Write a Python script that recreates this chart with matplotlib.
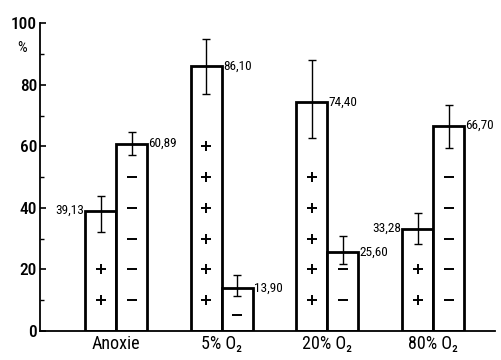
import matplotlib
matplotlib.use("Agg")
import matplotlib.pyplot as plt
import numpy as np

# ---- data ----
groups = ["Anoxie", "5% O₂", "20% O₂", "80% O₂"]
positive = [39.13, 86.10, 74.40, 33.28]   # "+" bars
negative = [60.89, 13.90, 25.60, 66.70]   # "−" bars
pos_err_lo = [7.0, 9.0, 11.6, 4.9]
pos_err_hi = [4.6, 8.9, 13.8, 4.9]
neg_err_lo = [3.8, 2.6, 4.0, 7.1]
neg_err_hi = [3.7, 4.2, 5.4, 6.7]
pos_symbols = [2, 6, 5, 2]
neg_symbols = [5, 1, 2, 5]
yticks = [0, 20, 40, 60, 80, 100]

plt.rcParams['font.family'] = ['Roboto Condensed', 'Liberation Sans', 'DejaVu Sans']

fig = plt.figure(figsize=(5.01, 3.6), dpi=100)
ax = fig.add_axes([0.0798, 0.0806, 0.908, 0.855])

x = np.arange(len(groups))
w = 0.293
lw = 2.0
ax.bar(x - w / 2, positive, width=w, facecolor='white', edgecolor='black', linewidth=lw, zorder=2)
ax.bar(x + w / 2, negative, width=w, facecolor='white', edgecolor='black', linewidth=lw, zorder=2)
ax.errorbar(x - w / 2, positive, yerr=[pos_err_lo, pos_err_hi], fmt='none', ecolor='black',
            elinewidth=1.0, capsize=3, capthick=1.0, zorder=3)
ax.errorbar(x + w / 2, negative, yerr=[neg_err_lo, neg_err_hi], fmt='none', ecolor='black',
            elinewidth=1.0, capsize=3, capthick=1.0, zorder=3)

for i in range(len(groups)):
    ys = [10 * (k + 1) for k in range(pos_symbols[i])]
    ax.plot([x[i] - w / 2] * len(ys), ys, linestyle='none', marker='+', markersize=7.5,
            markeredgewidth=1.4, color='black', zorder=4)
    if neg_symbols[i] == 1 and negative[i] < 20:
        ys = [negative[i] * 0.38]
    else:
        ys = [10 * (k + 1) for k in range(neg_symbols[i])]
    ax.plot([x[i] + w / 2] * len(ys), ys, linestyle='none', marker='_', markersize=7,
            markeredgewidth=1.4, color='black', zorder=4)

left_label = [True, False, False, True]
vfs = 9.5
for i in range(len(groups)):
    t = f"{positive[i]:.2f}".replace('.', ',')
    if left_label[i]:
        ax.text(x[i] - w - 0.012, positive[i], t, ha='right', va='center', fontsize=vfs)
    else:
        ax.text(x[i] + 0.012, positive[i], t, ha='left', va='center', fontsize=vfs)
    t = f"{negative[i]:.2f}".replace('.', ',')
    ax.text(x[i] + w + 0.012, negative[i], t, ha='left', va='center', fontsize=vfs)

ax.set_xlim(-0.72, 3.585)
ax.set_ylim(0, 100)
ax.set_yticks(yticks)
ax.set_yticks([10, 30, 50, 70, 90], minor=True)
ax.tick_params(axis='y', which='major', direction='in', length=4, width=1.2, labelsize=12.5, pad=2)
ax.tick_params(axis='y', which='minor', direction='in', length=3, width=1.0)
for lab in ax.get_yticklabels():
    lab.set_fontweight('medium')
ax.set_xticks(x)
ax.set_xticklabels(groups, fontsize=13)
ax.tick_params(axis='x', length=0, pad=3)
for s in ['top', 'right']:
    ax.spines[s].set_visible(False)
ax.spines['left'].set_linewidth(1.3)
ax.spines['bottom'].set_linewidth(1.3)
ax.text(-0.04, 92, '%', transform=ax.get_yaxis_transform(), ha='center', va='center', fontsize=11)

fig.savefig('out.png', dpi=100)
